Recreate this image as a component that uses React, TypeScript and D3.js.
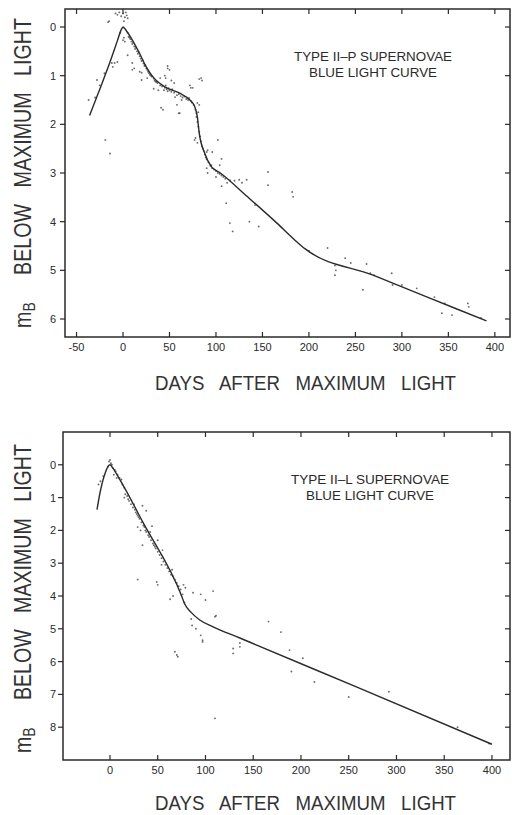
import React from "react";
import * as d3 from "d3";

// ---------- DATA ----------
const xTicksP = [-50, 0, 50, 100, 150, 200, 250, 300, 350, 400];
const yTicksP = [0, 1, 2, 3, 4, 5, 6];
const xTicksL = [0, 50, 100, 150, 200, 250, 300, 350, 400];
const yTicksL = [0, 1, 2, 3, 4, 5, 6, 7, 8];

// template light curve, Type II-P [days, mag below max]
const curveP: [number, number][] = [
  [-36, 1.82], [-25, 1.28], [-14, 0.72], [-6, 0.28], [-2, 0.06], [0, 0], [3, 0.06],
  [11, 0.3], [18, 0.55], [25, 0.82], [32, 1.02], [45, 1.23], [61, 1.36], [72, 1.5],
  [77, 1.63], [80, 1.85], [82, 2.18], [88, 2.6], [95, 2.87], [104, 2.99], [134, 3.49],
  [165, 4.02], [185, 4.38], [196, 4.56], [269, 5.1], [330, 5.57], [391, 6.04],
];

const pointsP: [number, number][] = [
  [-37, 1.5], [-28, 1.09], [-25, 1.2], [-19, 2.32], [-14, 2.6], [-16, -0.1], [-15, -0.12],
  [-12, 0.74], [-11, 0.82], [-9, 0.74], [-6, 0.72], [-8, -0.28], [-6, -0.25], [-4, -0.3],
  [-2, -0.22], [0, -0.28], [2, -0.2], [3, -0.3], [4, -0.24], [5, -0.18], [1, -0.12],
  [0, 0.27], [1, 0.22], [2, 0.3], [-3, 0.12], [-20, 0.95], [-30, 1.45],
  [5, 0.12], [6, 0.2], [7, 0.22], [8, 0.25], [9, 0.3], [10, 0.35], [11, 0.32], [12, 0.4],
  [13, 0.45], [14, 0.42], [15, 0.5], [16, 0.55], [17, 0.52], [18, 0.6], [19, 0.65],
  [20, 0.7], [21, 0.68], [22, 0.75], [23, 0.8], [24, 0.78], [25, 0.85], [26, 0.88],
  [27, 0.92], [28, 0.95], [29, 0.98], [30, 1.0], [31, 1.02], [33, 1.06], [34, 1.1],
  [5, 0.58], [10, 0.74], [10, 0.88], [12, 0.85], [18, 0.92], [20, 1.09], [20, 0.94],
  [26, 1.05], [36, 1.13], [33, 1.27], [41, 1.66], [43, 1.7],
  [35, 1.12], [37, 1.15], [38, 1.3], [40, 1.2], [42, 1.22], [44, 1.3], [45, 1.25],
  [46, 1.2], [47, 1.28], [48, 1.32], [49, 1.26], [50, 1.3], [52, 1.33], [53, 1.28],
  [55, 1.35], [56, 1.44], [58, 1.4], [60, 1.38], [61, 1.77], [62, 1.42], [64, 1.45],
  [66, 1.43], [68, 1.48], [70, 1.5], [71, 1.46], [73, 1.52], [74, 1.55], [76, 1.6],
  [48, 0.8], [48, 0.85], [50, 0.88], [45, 1.0], [46, 1.05], [52, 1.1], [40, 1.05], [55, 1.15],
  [73, 1.25], [75, 1.25], [72, 1.2], [82, 1.07], [84, 1.05], [85, 1.1], [80, 1.56],
  [82, 1.6], [79, 1.77], [81, 1.75], [60, 1.77], [58, 1.6], [63, 1.5],
  [78, 1.7], [79, 1.85], [80, 1.95], [81, 2.05], [82, 2.15], [83, 2.25], [84, 2.35],
  [85, 2.45], [86, 2.5], [87, 2.55], [88, 2.62], [89, 2.68], [90, 2.72], [92, 2.78],
  [94, 2.85], [96, 2.9], [98, 2.93], [100, 2.96], [102, 3.0], [104, 3.02], [106, 3.05],
  [108, 3.08], [110, 3.12],
  [77, 2.32], [78, 2.28], [80, 2.38], [91, 2.53], [90, 2.57], [96, 2.57], [102, 2.32],
  [106, 2.71], [104, 2.84], [95, 2.84], [91, 3.0], [90, 2.9], [100, 3.08], [106, 3.27],
  [112, 3.2], [115, 3.15], [120, 3.16], [125, 3.14], [133, 3.14], [128, 3.2],
  [111, 3.62], [115, 4.03], [118, 4.2], [136, 4.0], [142, 3.66], [146, 4.1], [156, 2.98],
  [156, 3.25], [182, 3.39], [183, 3.49],
  [220, 4.54], [228, 4.9], [229, 5.0], [228, 5.1], [239, 4.75], [262, 4.87], [258, 5.4],
  [266, 5.06], [289, 5.06], [290, 5.3], [316, 5.37], [346, 5.68], [343, 5.88], [371, 5.68],
  [372, 5.75], [354, 5.92], [200, 4.6], [245, 4.85], [270, 5.1], [300, 5.3], [335, 5.55],
  [385, 5.98],
];

// template light curve, Type II-L
const curveL: [number, number][] = [
  [-13.6, 1.37], [-10.5, 0.86], [-5, 0.25], [-2, 0.05], [0, 0], [3, 0.1], [10.5, 0.46],
  [35, 1.78], [75, 4.0], [78, 4.23], [85, 4.5], [94, 4.73], [108, 4.94], [136, 5.28],
  [153, 5.49], [258, 6.77], [400, 8.52],
];

const pointsL: [number, number][] = [
  [0, -0.15], [-1, -0.1], [1, -0.05], [2, 0.0], [-2, 0.05], [3, 0.1], [5, 0.15], [6, 0.2],
  [8, 0.3], [10, 0.4], [12, 0.45], [4, 0.3], [7, 0.4], [-10, 0.5], [-12, 0.6], [-7, 0.35],
  [13, 0.6], [15, 0.7], [15, 1.0], [16, 0.9], [18, 0.95], [19, 1.05], [20, 1.1], [22, 1.2],
  [24, 1.3], [26, 1.37], [27, 1.45], [28, 1.5], [29, 1.55], [30, 1.6], [31, 1.65], [33, 1.75],
  [34, 1.25], [35, 1.85], [36, 1.9], [37, 2.0], [38, 2.05], [40, 2.15], [41, 2.2], [42, 2.05],
  [43, 2.3], [44, 1.87], [45, 2.4], [46, 2.45], [47, 2.5], [48, 2.55], [50, 2.3], [50, 2.65],
  [52, 2.75], [54, 2.85], [54, 3.05], [55, 2.6], [56, 2.95], [58, 3.05], [60, 3.15],
  [62, 3.25], [64, 3.35], [65, 3.2], [66, 3.4], [68, 3.5], [70, 3.6], [72, 3.7], [74, 3.8],
  [76, 3.95],
  [29, 1.9], [32, 2.0], [34, 2.45], [25, 1.2], [38, 1.4], [29, 3.5], [49, 3.57], [50, 3.66],
  [77, 3.66], [79, 3.75], [66, 4.0], [63, 4.1], [78, 4.2], [87, 3.9], [95, 3.95], [108, 3.85],
  [100, 4.12], [110, 4.63], [111, 4.6], [85, 4.7], [86, 4.9], [90, 5.0], [95, 5.2], [97, 5.35],
  [97, 5.4], [68, 5.7], [70, 5.8], [71, 5.85], [129, 5.6], [129, 5.75], [136, 5.43],
  [136, 5.55], [110, 7.73],
  [166, 4.78], [179, 5.1], [188, 5.65], [190, 6.3], [214, 6.62], [250, 7.08], [292, 6.92],
  [364, 8.0], [397, 8.5], [202, 5.9],
];

const titleP = ["TYPE II\u2013P SUPERNOVAE", "BLUE LIGHT CURVE"];
const titleL = ["TYPE II\u2013L SUPERNOVAE", "BLUE LIGHT CURVE"];
const xLabel = "DAYS   AFTER   MAXIMUM   LIGHT";
const yLabel = "BELOW   MAXIMUM   LIGHT";

const FONT = "'Liberation Sans', Arial, sans-serif";
const INK = "#2a2a2a";

type PanelProps = {
  curve: [number, number][];
  points: [number, number][];
  xDomain: [number, number];
  yDomain: [number, number];
  box: { l: number; r: number; t: number; b: number };
  xTicks: number[];
  yTicks: number[];
  title: string[];
  titleY: number;
  titleX: number;
  xLabelY: number;
  yLabelSpan: [number, number];
};

const X_NATURAL = 342;
const Y_NATURAL = 378;

function Panel(p: PanelProps) {
  const x = d3.scaleLinear().domain(p.xDomain).range([p.box.l, p.box.r]);
  const y = d3.scaleLinear().domain(p.yDomain).range([p.box.t, p.box.b]);
  const line = d3
    .line<[number, number]>()
    .x((d) => x(d[0]))
    .y((d) => y(d[1]))
    .curve(d3.curveMonotoneX);
  const tl = 5;
  const { l, r, t, b } = p.box;
  const yMid = (p.yLabelSpan[0] + p.yLabelSpan[1]) / 2;
  const yLen = p.yLabelSpan[1] - p.yLabelSpan[0];
  return (
    <g>
      {p.points.map((d, i) => (
        <circle key={i} cx={x(d[0])} cy={y(d[1])} r={0.95} fill="#3a3a3a" opacity={0.75} />
      ))}
      <path d={line(p.curve) || ""} fill="none" stroke={INK} strokeWidth={1.4} />
      <rect x={l} y={t} width={r - l} height={b - t} fill="none" stroke={INK} strokeWidth={1.5} />
      {p.xTicks.map((v) => (
        <g key={"x" + v}>
          <line x1={x(v)} x2={x(v)} y1={b} y2={b - tl} stroke={INK} strokeWidth={1.2} />
          <line x1={x(v)} x2={x(v)} y1={t} y2={t + tl} stroke={INK} strokeWidth={1.2} />
          <text x={x(v)} y={b + 14} textAnchor="middle" fontSize={11} fontFamily={FONT} fill={INK}>
            {v}
          </text>
        </g>
      ))}
      {p.yTicks.map((v) => (
        <g key={"y" + v}>
          <line x1={l} x2={l - tl} y1={y(v)} y2={y(v)} stroke={INK} strokeWidth={1.2} />
          <line x1={r} x2={r - tl} y1={y(v)} y2={y(v)} stroke={INK} strokeWidth={1.2} />
          <text x={53} y={y(v) + 4} textAnchor="middle" fontSize={11} fontFamily={FONT} fill={INK}>
            {v}
          </text>
        </g>
      ))}
      <text x={p.titleX} y={p.titleY} textAnchor="middle" fontSize={13.5} fontFamily={FONT} fill={INK}
        textLength={158} lengthAdjust="spacingAndGlyphs" style={{ whiteSpace: "pre" }}>
        {p.title[0]}
      </text>
      <text x={p.titleX} y={p.titleY + 16} textAnchor="middle" fontSize={13.5} fontFamily={FONT} fill={INK}
        textLength={128} lengthAdjust="spacingAndGlyphs" style={{ whiteSpace: "pre" }}>
        {p.title[1]}
      </text>
      <text transform={`translate(305.5,${p.xLabelY}) scale(${301 / X_NATURAL},1)`} textAnchor="middle"
        fontSize={21} fontFamily={FONT} fill="#333" textLength={X_NATURAL}
        lengthAdjust="spacingAndGlyphs" style={{ whiteSpace: "pre" }}>
        {xLabel}
      </text>
      <text transform={`translate(31,${yMid}) rotate(-90) scale(${yLen / Y_NATURAL},1)`}
        textAnchor="middle" fontSize={24} fontFamily={FONT} fill="#333" textLength={Y_NATURAL}
        lengthAdjust="spacingAndGlyphs" style={{ whiteSpace: "pre" }}>
        m<tspan fontSize={17} dy={4}>B</tspan>
        <tspan dy={-4}>{"     " + yLabel}</tspan>
      </text>
    </g>
  );
}

export default function App() {
  return (
    <svg width={512} height={815} style={{ position: "absolute", left: 0, top: 0, background: "#fff" }}>
      <rect width={512} height={815} fill="#fff" />
      <Panel
        curve={curveP}
        points={pointsP}
        xDomain={[-62.4, 416.3]}
        yDomain={[-0.37, 6.37]}
        box={{ l: 65, r: 510, t: 9, b: 337 }}
        xTicks={xTicksP}
        yTicks={yTicksP}
        title={titleP}
        titleX={373}
        titleY={61}
        xLabelY={390}
        yLabelSpan={[18, 328]}
      />
      <Panel
        curve={curveL}
        points={pointsL}
        xDomain={[-49.2, 418.9]}
        yDomain={[-1.0, 9.0]}
        box={{ l: 63, r: 510, t: 432, b: 760 }}
        xTicks={xTicksL}
        yTicks={yTicksL}
        title={titleL}
        titleX={370}
        titleY={484}
        xLabelY={810}
        yLabelSpan={[444, 753]}
      />
    </svg>
  );
}
